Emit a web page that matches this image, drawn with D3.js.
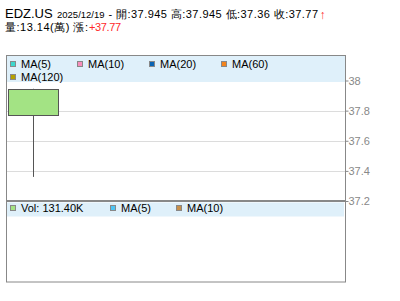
<!DOCTYPE html>
<html><head><meta charset="utf-8">
<script src="https://cdn.jsdelivr.net/npm/d3@7"></script>
<style>body{margin:0;background:#fff}svg{display:block}text{font-family:Arial,"Liberation Sans",sans-serif}</style>
</head><body><svg id="c" width="400" height="301"></svg>
<script>
const symbol = "EDZ.US";
const dates = ["2025/12/19"];
const opens = [37.945];
const highs = [37.945];
const lows = [37.36];
const closes = [37.77];
const volumes = [131400];
const yTicks = [37.2, 37.4, 37.6, 37.8, 38];
const priceLegend = ["MA(5)", "MA(10)", "MA(20)", "MA(60)", "MA(120)"];
const priceLegendColors = ["#3cd6cc", "#f78dbb", "#0a64b4", "#f4841c", "#b4a000"];
const volLegend = ["Vol: 131.40K", "MA(5)", "MA(10)"];
const volLegendColors = ["#a3e384", "#4cc4f4", "#c8904a"];

const svg = d3.select("#c");
const L = 6, R = 345, T = 55.5, B = 201, VB = 282;
const y = d3.scaleLinear().domain([37.2, 38]).range([B, 80.5]);
const x = d3.scaleBand().domain(dates).range([8, 58]).padding(0);

// title
function txt(s, px, py, opts) {
  const t = svg.append("text").attr("x", px).attr("y", py).attr("font-size", opts.size || 11).attr("fill", opts.fill || "#000").text(s);
  if (opts.len) t.attr("textLength", opts.len).attr("lengthAdjust", opts.adj || "spacing");
  if (opts.bold) t.attr("font-weight", "bold");
  return t;
}
txt(symbol, 5, 17.5, {size: 13});
txt(dates[0], 57, 17.5, {size: 9.5});
txt(`- 開:${opens[0]} 高:${highs[0]} 低:${lows[0]} 收:${closes[0]}`, 108.5, 17.5, {len: 209.5});
txt("↑", 319.5, 18.5, {size: 12, fill: "#ff2a2a", bold: true});
txt("量:13.14(萬) 漲:", 5, 31, {len: 83});
txt("+" + closes[0], 89, 31, {fill: "#ff2a2a", len: 32});

// grid
svg.append("g").selectAll("line").data(yTicks.slice(1)).join("line")
  .attr("x1", L).attr("x2", R).attr("y1", d => Math.round(y(d)) + 0.5).attr("y2", d => Math.round(y(d)) + 0.5)
  .attr("stroke", "#dcdcdc");

// legend band
svg.append("rect").attr("x", L + 1).attr("y", T).attr("width", R - L - 1).attr("height", 82 - T).attr("fill", "#dff0fa");

// boxes
svg.append("rect").attr("x", L + 0.5).attr("y", T).attr("width", R - L).attr("height", B - T).attr("fill", "none").attr("stroke", "#888");
svg.append("rect").attr("x", L + 0.5).attr("y", B).attr("width", R - L).attr("height", VB - B).attr("fill", "none").attr("stroke", "#888");
svg.append("line").attr("x1", L).attr("x2", R + 1).attr("y1", B).attr("y2", B).attr("stroke", "#888").attr("stroke-width", 2);

// axis
const axis = d3.axisRight(y).tickValues(yTicks).tickSize(3).tickFormat(d3.format("~g"));
const ag = svg.append("g").attr("transform", `translate(${R + 0.5},0)`).call(axis);
ag.select(".domain").remove();
ag.selectAll("line").attr("stroke", "#888");
ag.selectAll("text").attr("fill", "#888").attr("font-size", 11).attr("x", 3).attr("font-family", "Arial, 'Liberation Sans', sans-serif");

// price legend
const plPos = [[10, 61], [77, 61], [149, 61], [221, 61], [10, 74]];
priceLegend.forEach((n, i) => {
  const [px, py] = plPos[i];
  svg.append("rect").attr("x", px + 0.5).attr("y", py + 0.5).attr("width", 5).attr("height", 5).attr("fill", priceLegendColors[i]).attr("stroke", "#888");
  svg.append("text").attr("x", px + 11).attr("y", py + 7).attr("font-size", 11).text(n);
});

// vol legend band
svg.append("rect").attr("x", L + 1).attr("y", B + 1.5).attr("width", R - L - 2).attr("height", 14).attr("fill", "#dff0fa");
const vlPos = [10, 110, 176];
volLegend.forEach((n, i) => {
  const px = vlPos[i], py = 205;
  svg.append("rect").attr("x", px + 0.5).attr("y", py + 0.5).attr("width", 5).attr("height", 5).attr("fill", volLegendColors[i]).attr("stroke", "#888");
  svg.append("text").attr("x", px + 11).attr("y", py + 7).attr("font-size", 11).text(n);
});

// candle
const cg = svg.append("g");
dates.forEach((d, i) => {
  const cx = Math.round(x(d) + x.bandwidth() / 2) + 0.5;
  cg.append("line").attr("x1", cx).attr("x2", cx).attr("y1", y(highs[i])).attr("y2", y(lows[i])).attr("stroke", "#555");
  const top = y(Math.max(opens[i], closes[i])), bot = y(Math.min(opens[i], closes[i]));
  cg.append("rect").attr("x", x(d) + 0.5).attr("y", Math.round(top) + 0.5).attr("width", x.bandwidth()).attr("height", Math.round(bot - top))
    .attr("fill", "#a3e384").attr("stroke", "#555");
});
</script></body></html>
